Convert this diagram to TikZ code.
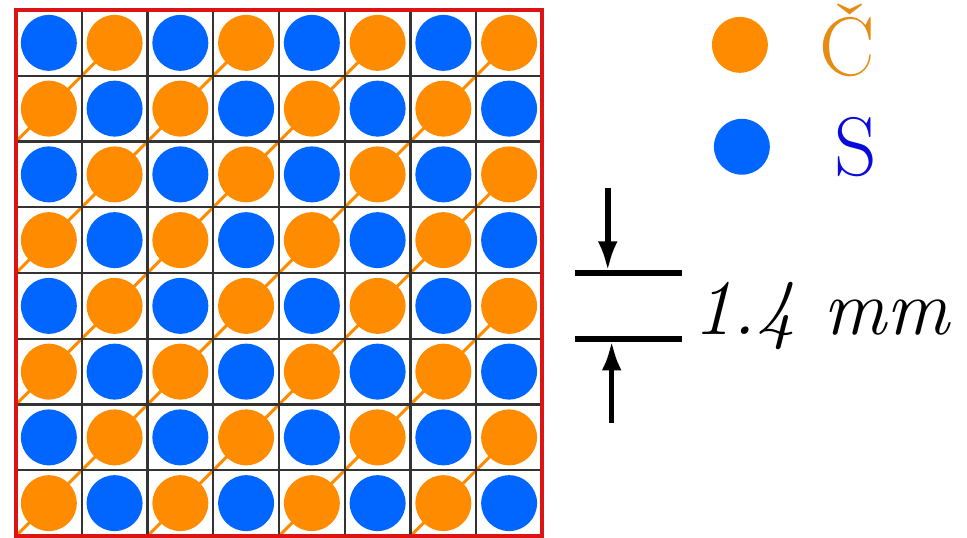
\documentclass[tikz,border=0pt]{standalone}
\usetikzlibrary{arrows.meta,backgrounds}

\definecolor{orangeC}{RGB}{255,140,0}
\definecolor{blueS}{RGB}{0,102,255}
\definecolor{labelC}{RGB}{230,140,20}
\definecolor{labelS}{RGB}{10,10,220}
\definecolor{frameR}{RGB}{220,20,20}

\tikzset{
  site0/.style={circle,fill=orangeC,inner sep=0pt,minimum size=0.85cm},
  site1/.style={circle,fill=blueS,inner sep=0pt,minimum size=0.85cm},
  chain/.style={orangeC,line width=1.3pt},
  gridline/.style={black!80,line width=0.9pt},
  dimline/.style={line width=2.4pt},
  dimarrow/.style={line width=2.4pt,-{Latex[length=0.45cm,width=0.3cm]}},
  keytext/.style={anchor=base west,inner sep=0pt,font=\fontsize{36}{40}\selectfont}
}

\begin{document}
\begin{tikzpicture}
  \useasboundingbox (-0.243,-0.015) rectangle (14.464,8.152);

  \draw[gridline] (0,0) grid (8,8);
  \draw[frameR,line width=1.5pt] (0,0) rectangle (8,8);

  \foreach \c in {0,...,7}
    \foreach \j in {0,...,7}{
      \pgfmathtruncatemacro\k{mod(\c+\j,2)}
      \node[site\k] (a\c\j) at (\c+.5,\j+.5) {};
    }

  \begin{pgfonlayer}{background}
    \foreach \d in {0,2,4,6}{
      \pgfmathtruncatemacro\e{7-\d}
      \coordinate (b\d) at (\d,0);
      \draw[chain] (b\d) -- (a7\e.center);
    }
    \foreach \d in {2,4,6}{
      \pgfmathtruncatemacro\e{7-\d}
      \coordinate (l\d) at (0,\d);
      \draw[chain] (l\d) -- (a\e7.center);
    }
  \end{pgfonlayer}

  \node[site0] (keyC) at (11.01,7.47) {};
  \node[site1] (keyS) at (11.04,5.92) {};
  \node[keytext,text=labelC] (labC) at (12.21,7.01) {Č};
  \node[keytext,text=labelS] (labS) at (12.44,5.49) {S};

  \coordinate (u1) at (8.50,4);
  \coordinate (u2) at (10.13,4);
  \coordinate (d1) at (8.50,3);
  \coordinate (d2) at (10.13,3);
  \coordinate (ua) at (9.00,5.29);
  \coordinate (ub) at (9.00,4.03);
  \coordinate (da) at (9.06,1.72);
  \coordinate (db) at (9.06,2.97);
  \draw[dimline] (u1) -- (u2);
  \draw[dimline] (d1) -- (d2);
  \draw[dimarrow] (ua) -- (ub);
  \draw[dimarrow] (da) -- (db);
  \node[keytext,font=\itshape\fontsize{34}{40}\selectfont] (pitch) at (10.30,3.06) {1.4 mm};
\end{tikzpicture}
\end{document}
